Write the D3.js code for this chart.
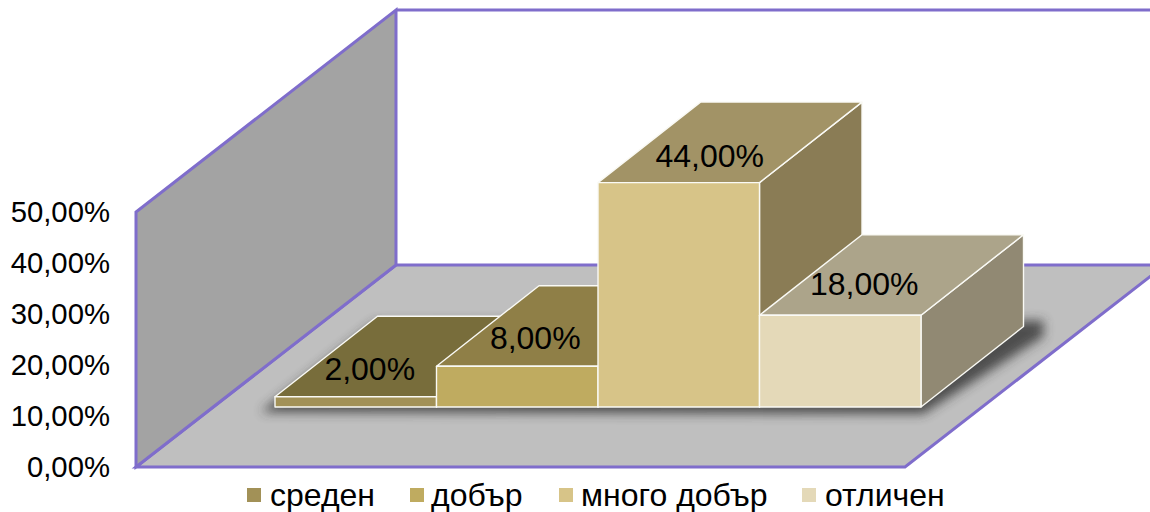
<!DOCTYPE html>
<html><head><meta charset="utf-8">
<script src="https://cdn.jsdelivr.net/npm/d3@7"></script>
<style>html,body{margin:0;padding:0;background:#fff;overflow:hidden}svg{display:block}text{font-family:"Liberation Sans",Arial,sans-serif;fill:#000}</style>
</head><body><div id="c"></div>
<script>
const categories = ["среден","добър","много добър","отличен"];
const values = [2,8,44,18];
const valueLabels = ["2,00%","8,00%","44,00%","18,00%"];
const tickValues = [0,10,20,30,40,50];
const tickLabels = ["0,00%","10,00%","20,00%","30,00%","40,00%","50,00%"];

// layout
const W=1150,H=512;
const depth=[260,-202];       // wall/floor depth vector
const barDepth=[102.5,-80.5]; // bar depth vector
const floorFront=467, floorLeft=136, floorRight=905, barBase=407;
const labelNudge=[[14,-17],[18,-17],[31,-16],[24,-20]];
const legendX=[247,410,559,802];
const legendTextX=[270,431,581,825];

const faceColors=[
 {front:"#a29157",top:"#786d3b",side:"#6d6336"},
 {front:"#bfab60",top:"#8f7f47",side:"#7d6f3f"},
 {front:"#d7c488",top:"#a29366",side:"#8a7c55"},
 {front:"#e4d9b8",top:"#aca48a",side:"#918973"}];

const y=d3.scaleLinear().domain([0,50]).range([0,255]);
const x=d3.scaleBand().domain(categories).range([275,921]).padding(0);
const svg=d3.select("#c").append("svg").attr("width",W).attr("height",H);
const defs=svg.append("defs");
defs.append("filter").attr("id","sh").attr("x","-20%").attr("y","-40%").attr("width","140%").attr("height","180%")
  .append("feGaussianBlur").attr("stdDeviation",5.5);
const pts=a=>a.map(p=>p.join(",")).join(" ");
const purple="#7f6dcb";

// walls and floor
svg.append("polygon").attr("points",pts([[floorLeft,floorFront],[floorRight,floorFront],[floorRight+depth[0],floorFront+depth[1]],[floorLeft+depth[0],floorFront+depth[1]]]))
  .attr("fill","#bfbfbf").attr("stroke",purple).attr("stroke-width",3);
svg.append("polygon").attr("points",pts([[floorLeft,floorFront],[floorLeft,floorFront-y(50)],[floorLeft+depth[0],floorFront-y(50)+depth[1]],[floorLeft+depth[0],floorFront+depth[1]]]))
  .attr("fill","#a3a3a3").attr("stroke",purple).attr("stroke-width",3);
svg.append("line").attr("x1",floorLeft+depth[0]).attr("x2",W+5).attr("y1",floorFront-y(50)+depth[1]).attr("y2",floorFront-y(50)+depth[1]).attr("stroke",purple).attr("stroke-width",3);

// shadow
const x0=x.range()[0],x1=x.range()[1];
svg.append("polygon").attr("points",pts([[x0-14,barBase+5],[x1+2,barBase+7],[x1+barDepth[0]+20,barBase+barDepth[1]+10],[x1+barDepth[0]+20,barBase+barDepth[1]-6],[x0+barDepth[0]-2,barBase+barDepth[1]-4]]))
  .attr("fill","#333").attr("opacity",.8).attr("filter","url(#sh)");

// bars
const bars=svg.selectAll("g.bar").data(categories).join("g").attr("class","bar");
bars.each(function(c,i){
  const g=d3.select(this),l=x(c),r=l+x.bandwidth(),t=barBase-y(values[i]),dx=barDepth[0],dy=barDepth[1],col=faceColors[i];
  const st=s=>s.attr("stroke","#fafaf5").attr("stroke-width",1.4).attr("stroke-linejoin","round");
  st(g.append("polygon").attr("points",pts([[r,barBase],[r+dx,barBase+dy],[r+dx,t+dy],[r,t]])).attr("fill",col.side));
  st(g.append("polygon").attr("points",pts([[l,t],[r,t],[r+dx,t+dy],[l+dx,t+dy]])).attr("fill",col.top));
  st(g.append("rect").attr("x",l).attr("y",t).attr("width",r-l).attr("height",barBase-t).attr("fill",col.front));
});
// value labels
svg.selectAll("text.v").data(categories).join("text").attr("class","v")
  .attr("x",(c,i)=>x(c)+x.bandwidth()/2+labelNudge[i][0])
  .attr("y",(c,i)=>barBase-y(values[i])+labelNudge[i][1])
  .attr("text-anchor","middle").attr("font-size",32).text((c,i)=>valueLabels[i]);

// axis ticks
const axisY=d3.scaleLinear().domain([0,50]).range([floorFront,floorFront-y(50)]);
const axis=d3.axisLeft(axisY).tickValues(tickValues).tickSize(0).tickPadding(26).tickFormat((d,i)=>tickLabels[i]);
const ag=svg.append("g").attr("transform",`translate(${floorLeft},0)`).call(axis);
ag.select(".domain").remove();
ag.selectAll("text").attr("font-size",29.3).attr("font-family",'"Liberation Sans",Arial,sans-serif').attr("dy",null).attr("y",9.5);

// legend
const lg=svg.selectAll("g.l").data(categories).join("g").attr("class","l");
lg.append("rect").attr("x",(c,i)=>legendX[i]).attr("y",488).attr("width",14).attr("height",14).attr("fill",(c,i)=>faceColors[i].front);
lg.append("text").attr("x",(c,i)=>legendTextX[i]).attr("y",506).attr("font-size",32).text(c=>c);
</script></body></html>
